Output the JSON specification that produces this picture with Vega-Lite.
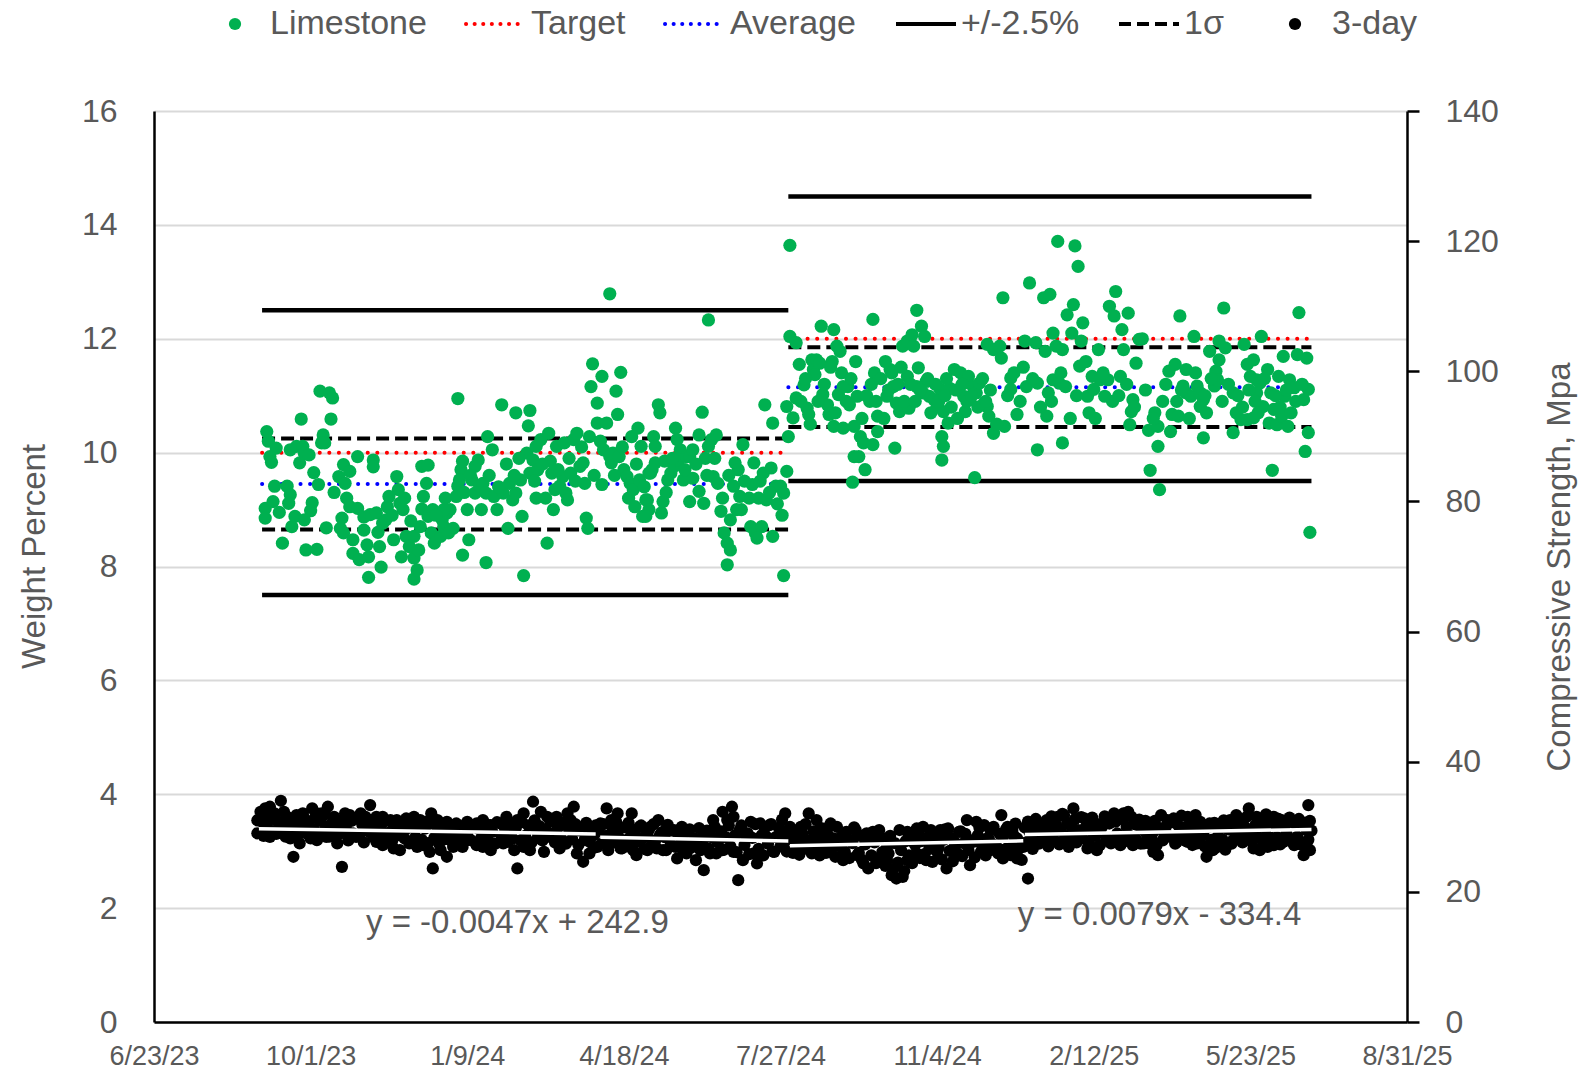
{
"$schema": "https://vega.github.io/schema/vega-lite/v6.json",
"width": 1253, "height": 911,
"autosize": {"type": "none"},
"padding": {"left": 154, "top": 111, "right": 172, "bottom": 50},
"background": "white",
"config": {"view": {"stroke": null}, "font": "Liberation Sans"},
"datasets": {
"lines": [
{"series":"Target","x1":45169,"x2":45505,"v":10},
{"series":"Target","x1":45505,"x2":45839,"v":12},
{"series":"Average","x1":45169,"x2":45505,"v":9.45},
{"series":"Average","x1":45505,"x2":45839,"v":11.15},
{"series":"+/-2.5%","x1":45169,"x2":45505,"v":12.5},
{"series":"+/-2.5%","x1":45169,"x2":45505,"v":7.5},
{"series":"+/-2.5%","x1":45505,"x2":45839,"v":14.5},
{"series":"+/-2.5%","x1":45505,"x2":45839,"v":9.5},
{"series":"1σ","x1":45169,"x2":45505,"v":10.25},
{"series":"1σ","x1":45169,"x2":45505,"v":8.65},
{"series":"1σ","x1":45505,"x2":45839,"v":11.85},
{"series":"1σ","x1":45505,"x2":45839,"v":10.45}
],
"trend": [
{"g":1,"d":45167,"s":29.7},{"g":1,"d":45382,"s":28.9},
{"g":2,"d":45385,"s":28.4},{"g":2,"d":45505,"s":27.8},
{"g":3,"d":45506,"s":27.1},{"g":3,"d":45655,"s":27.85},
{"g":4,"d":45656,"s":28.8},{"g":4,"d":45839,"s":29.6}
],
"lime": [
{"d":45172,"v":10.37},{"d":45173,"v":10.20},{"d":45178,"v":10.08},{"d":45174,"v":9.93},{"d":45175,"v":9.83},{"d":45177,"v":9.41},{"d":45171,"v":9.02},{"d":45171,"v":8.85},{"d":45176,"v":9.14},{"d":45180,"v":8.95},
{"d":45182,"v":8.41},{"d":45185,"v":9.41},{"d":45187,"v":9.26},{"d":45186,"v":9.11},{"d":45188,"v":8.70},{"d":45190,"v":8.88},{"d":45187,"v":10.05},{"d":45191,"v":10.11},{"d":45194,"v":10.59},{"d":45193,"v":9.82},
{"d":45195,"v":10.11},{"d":45196,"v":9.99},{"d":45199,"v":9.96},{"d":45202,"v":9.65},{"d":45205,"v":9.44},{"d":45201,"v":9.12},{"d":45200,"v":8.98},{"d":45196,"v":8.82},{"d":45197,"v":8.29},{"d":45204,"v":8.30},
{"d":45206,"v":11.08},{"d":45212,"v":11.05},{"d":45214,"v":10.96},{"d":45213,"v":10.59},{"d":45208,"v":10.31},{"d":45209,"v":10.17},{"d":45207,"v":10.17},{"d":45210,"v":8.68},{"d":45218,"v":9.58},{"d":45221,"v":9.79},
{"d":45225,"v":9.67},{"d":45222,"v":9.46},{"d":45220,"v":8.85},{"d":45219,"v":8.67},{"d":45221,"v":8.59},{"d":45223,"v":9.20},{"d":45225,"v":9.05},{"d":45227,"v":8.47},{"d":45227,"v":8.23},{"d":45231,"v":8.12},
{"d":45230,"v":9.02},{"d":45230,"v":9.93},{"d":45234,"v":8.64},{"d":45236,"v":8.38},{"d":45237,"v":8.17},{"d":45237,"v":7.81},{"d":45234,"v":8.87},{"d":45238,"v":8.91},{"d":45240,"v":9.87},{"d":45240,"v":9.75},
{"d":45242,"v":8.94},{"d":45244,"v":8.35},{"d":45245,"v":7.99},{"d":45246,"v":8.76},{"d":45249,"v":9.05},{"d":45250,"v":9.23},{"d":45248,"v":8.82},{"d":45253,"v":8.47},{"d":45255,"v":9.58},{"d":45256,"v":9.35},
{"d":45257,"v":9.11},{"d":45259,"v":9.00},{"d":45258,"v":8.17},{"d":45261,"v":8.53},{"d":45263,"v":8.35},{"d":45266,"v":8.15},{"d":45266,"v":7.78},{"d":45268,"v":7.94},{"d":45269,"v":8.29},{"d":45266,"v":8.53},
{"d":45270,"v":8.70},{"d":45271,"v":9.76},{"d":45275,"v":9.78},{"d":45274,"v":9.46},{"d":45272,"v":9.23},{"d":45271,"v":9.01},{"d":45275,"v":8.88},{"d":45278,"v":9.00},{"d":45277,"v":8.59},{"d":45279,"v":8.41},
{"d":45283,"v":8.53},{"d":45285,"v":8.70},{"d":45284,"v":8.82},{"d":45287,"v":8.94},{"d":45289,"v":9.00},{"d":45291,"v":8.67},{"d":45288,"v":8.59},{"d":45285,"v":9.00},{"d":45293,"v":9.23},{"d":45294,"v":9.41},
{"d":45296,"v":9.70},{"d":45297,"v":9.85},{"d":45295,"v":9.52},{"d":45300,"v":9.00},{"d":45301,"v":8.47},{"d":45297,"v":8.20},{"d":45294,"v":10.95},{"d":45303,"v":9.52},{"d":45305,"v":9.29},{"d":45305,"v":9.76},
{"d":45307,"v":9.87},{"d":45308,"v":9.41},{"d":45310,"v":9.46},{"d":45309,"v":9.00},{"d":45312,"v":9.29},{"d":45313,"v":10.28},{"d":45316,"v":10.05},{"d":45317,"v":9.23},{"d":45319,"v":9.00},{"d":45312,"v":8.07},
{"d":45322,"v":10.84},{"d":45323,"v":9.29},{"d":45326,"v":8.67},{"d":45327,"v":9.46},{"d":45329,"v":9.17},{"d":45331,"v":10.70},{"d":45331,"v":9.29},{"d":45334,"v":9.52},{"d":45335,"v":8.88},{"d":45336,"v":7.84},
{"d":45338,"v":9.99},{"d":45339,"v":10.47},{"d":45340,"v":10.74},{"d":45340,"v":9.64},{"d":45342,"v":9.87},{"d":45344,"v":10.11},{"d":45345,"v":9.70},{"d":45344,"v":9.20},{"d":45347,"v":10.23},{"d":45350,"v":9.20},
{"d":45351,"v":8.41},{"d":45352,"v":10.34},{"d":45353,"v":9.85},{"d":45354,"v":9.64},{"d":45355,"v":9.00},{"d":45356,"v":9.35},{"d":45357,"v":10.11},{"d":45359,"v":9.41},{"d":45361,"v":9.58},{"d":45363,"v":9.29},
{"d":45362,"v":10.17},{"d":45364,"v":9.17},{"d":45366,"v":9.64},{"d":45368,"v":10.23},{"d":45370,"v":10.34},{"d":45372,"v":9.76},{"d":45374,"v":9.82},{"d":45375,"v":9.46},{"d":45376,"v":8.85},{"d":45377,"v":8.67},
{"d":45378,"v":10.28},{"d":45380,"v":11.56},{"d":45379,"v":11.16},{"d":45383,"v":10.87},{"d":45386,"v":11.34},{"d":45383,"v":10.52},{"d":45386,"v":9.44},{"d":45387,"v":10.05},{"d":45389,"v":10.52},{"d":45391,"v":9.93},
{"d":45392,"v":9.82},{"d":45393,"v":9.99},{"d":45395,"v":11.08},{"d":45396,"v":10.67},{"d":45398,"v":11.41},{"d":45397,"v":9.93},{"d":45400,"v":9.70},{"d":45402,"v":9.58},{"d":45403,"v":9.20},{"d":45404,"v":9.46},
{"d":45405,"v":10.28},{"d":45406,"v":9.35},{"d":45407,"v":9.05},{"d":45409,"v":10.43},{"d":45410,"v":9.52},{"d":45411,"v":10.11},{"d":45412,"v":8.88},{"d":45414,"v":9.17},{"d":45416,"v":9.64},{"d":45391,"v":12.79},
{"d":45419,"v":10.28},{"d":45422,"v":10.84},{"d":45423,"v":10.70},{"d":45420,"v":10.11},{"d":45417,"v":9.64},{"d":45420,"v":9.82},{"d":45426,"v":9.85},{"d":45415,"v":9.17},{"d":45416,"v":9.00},{"d":45414,"v":8.88},
{"d":45424,"v":8.94},{"d":45425,"v":9.14},{"d":45428,"v":9.52},{"d":45430,"v":9.64},{"d":45432,"v":9.76},{"d":45433,"v":10.43},{"d":45434,"v":10.23},{"d":45436,"v":10.05},{"d":45435,"v":9.87},{"d":45438,"v":9.52},
{"d":45440,"v":9.93},{"d":45442,"v":9.93},{"d":45444,"v":10.05},{"d":45444,"v":9.55},{"d":45442,"v":9.14},{"d":45448,"v":10.31},{"d":45450,"v":10.71},{"d":45448,"v":9.32},{"d":45451,"v":9.11},{"d":45452,"v":9.90},
{"d":45454,"v":10.11},{"d":45456,"v":10.23},{"d":45459,"v":10.31},{"d":45457,"v":9.58},{"d":45460,"v":9.46},{"d":45462,"v":8.97},{"d":45468,"v":8.82},{"d":45464,"v":8.59},{"d":45466,"v":8.41},{"d":45468,"v":8.29},
{"d":45466,"v":8.03},{"d":45471,"v":9.82},{"d":45473,"v":9.70},{"d":45470,"v":9.41},{"d":45474,"v":9.23},{"d":45475,"v":9.00},{"d":45472,"v":9.00},{"d":45476,"v":10.14},{"d":45481,"v":8.70},{"d":45484,"v":8.59},
{"d":45483,"v":9.82},{"d":45482,"v":9.44},{"d":45486,"v":9.20},{"d":45488,"v":8.70},{"d":45485,"v":8.50},{"d":45489,"v":9.64},{"d":45491,"v":9.17},{"d":45490,"v":10.84},{"d":45494,"v":9.73},{"d":45495,"v":10.52},
{"d":45497,"v":9.41},{"d":45500,"v":9.41},{"d":45502,"v":9.29},{"d":45504,"v":9.67},{"d":45502,"v":7.84},{"d":45495,"v":8.53},{"d":45454,"v":12.33},
{"d":45215,"v":9.3},{"d":45243,"v":8.6},{"d":45252,"v":8.9},{"d":45260,"v":9.2},{"d":45264,"v":8.8},{"d":45280,"v":8.9},{"d":45286,"v":9.2},{"d":45298,"v":9.3},{"d":45302,"v":9.6},{"d":45314,"v":9.6},
{"d":45320,"v":9.4},{"d":45325,"v":9.8},{"d":45330,"v":9.6},{"d":45333,"v":9.9},{"d":45343,"v":9.5},{"d":45348,"v":9.8},{"d":45358,"v":9.7},{"d":45365,"v":9.9},{"d":45369,"v":9.5},{"d":45373,"v":10.1},
{"d":45381,"v":9.6},{"d":45385,"v":10.2},{"d":45394,"v":9.6},{"d":45399,"v":10.1},{"d":45408,"v":9.8},{"d":45413,"v":9.4},{"d":45418,"v":9.7},{"d":45427,"v":9.3},{"d":45431,"v":9.9},{"d":45439,"v":9.7},
{"d":45446,"v":9.8},{"d":45453,"v":9.6},{"d":45458,"v":9.9},{"d":45463,"v":9.2},{"d":45467,"v":9.6},{"d":45477,"v":9.5},{"d":45480,"v":9.2},{"d":45487,"v":9.5},{"d":45493,"v":9.3},{"d":45498,"v":9.1},{"d":45501,"v":8.9},
{"d":45506,"v":12.04},{"d":45510,"v":11.93},{"d":45512,"v":11.55},{"d":45504,"v":10.81},{"d":45505,"v":10.28},{"d":45508,"v":10.61},{"d":45510,"v":10.96},{"d":45515,"v":11.19},{"d":45517,"v":10.78},{"d":45518,"v":10.67},
{"d":45521,"v":11.46},{"d":45520,"v":11.63},{"d":45523,"v":11.63},{"d":45525,"v":11.57},{"d":45522,"v":11.37},{"d":45526,"v":12.22},{"d":45527,"v":11.02},{"d":45530,"v":10.84},{"d":45531,"v":10.67},{"d":45534,"v":12.16},
{"d":45536,"v":11.87},{"d":45538,"v":11.78},{"d":45533,"v":11.60},{"d":45534,"v":10.46},{"d":45537,"v":11.02},{"d":45540,"v":11.16},{"d":45543,"v":11.16},{"d":45544,"v":10.84},{"d":45540,"v":10.43},{"d":45547,"v":10.46},
{"d":45549,"v":10.99},{"d":45551,"v":10.28},{"d":45547,"v":9.93},{"d":45550,"v":9.93},{"d":45554,"v":9.70},{"d":45546,"v":9.48},{"d":45553,"v":10.17},{"d":45557,"v":10.90},{"d":45559,"v":12.34},{"d":45560,"v":11.40},
{"d":45559,"v":10.14},{"d":45562,"v":10.64},{"d":45562,"v":10.37},{"d":45567,"v":11.60},{"d":45570,"v":11.46},{"d":45568,"v":10.99},{"d":45572,"v":11.16},{"d":45574,"v":10.87},{"d":45576,"v":10.72},{"d":45573,"v":10.08},
{"d":45578,"v":11.87},{"d":45581,"v":11.96},{"d":45584,"v":12.07},{"d":45585,"v":11.87},{"d":45587,"v":12.50},{"d":45588,"v":11.49},{"d":45590,"v":12.22},{"d":45592,"v":12.04},{"d":45581,"v":11.34},{"d":45582,"v":10.78},
{"d":45587,"v":11.16},{"d":45591,"v":11.05},{"d":45593,"v":11.25},{"d":45595,"v":10.99},{"d":45598,"v":10.93},{"d":45600,"v":10.81},{"d":45602,"v":11.11},{"d":45604,"v":10.72},{"d":45607,"v":10.52},{"d":45603,"v":10.28},
{"d":45604,"v":10.11},{"d":45603,"v":9.87},{"d":45608,"v":11.13},{"d":45611,"v":11.46},{"d":45615,"v":11.40},{"d":45617,"v":10.99},{"d":45618,"v":10.72},{"d":45620,"v":11.34},{"d":45621,"v":10.93},{"d":45623,"v":11.16},
{"d":45625,"v":11.05},{"d":45627,"v":11.22},{"d":45630,"v":10.87},{"d":45632,"v":10.81},{"d":45633,"v":10.64},{"d":45632,"v":11.90},{"d":45636,"v":11.81},{"d":45640,"v":11.87},{"d":45641,"v":11.66},{"d":45642,"v":12.72},
{"d":45636,"v":10.34},{"d":45624,"v":9.56},{"d":45643,"v":10.46},{"d":45647,"v":11.31},{"d":45647,"v":11.11},{"d":45651,"v":10.67},{"d":45657,"v":11.16},{"d":45659,"v":12.98},{"d":45664,"v":11.22},{"d":45656,"v":11.96},
{"d":45663,"v":11.93},{"d":45668,"v":12.72},{"d":45672,"v":12.78},{"d":45669,"v":11.78},{"d":45674,"v":12.10},{"d":45676,"v":11.87},{"d":45680,"v":11.81},{"d":45671,"v":11.05},{"d":45664,"v":10.05},{"d":45670,"v":10.64},
{"d":45674,"v":11.28},{"d":45678,"v":11.22},{"d":45682,"v":11.16},{"d":45680,"v":10.17},{"d":45683,"v":12.42},{"d":45687,"v":12.60},{"d":45686,"v":12.10},{"d":45692,"v":11.96},{"d":45693,"v":12.28},{"d":45691,"v":11.52},
{"d":45696,"v":10.99},{"d":45699,"v":11.34},{"d":45700,"v":11.11},{"d":45697,"v":10.70},{"d":45704,"v":11.28},{"d":45703,"v":11.81},{"d":45707,"v":10.99},{"d":45709,"v":11.28},{"d":45710,"v":12.57},{"d":45713,"v":12.40},
{"d":45714,"v":12.83},{"d":45718,"v":12.16},{"d":45719,"v":11.81},{"d":45717,"v":11.34},{"d":45722,"v":12.45},{"d":45723,"v":10.49},{"d":45724,"v":10.72},{"d":45727,"v":11.57},{"d":45725,"v":10.93},{"d":45729,"v":11.99},
{"d":45506,"v":13.64},{"d":45677,"v":13.71},{"d":45688,"v":13.63},{"d":45690,"v":13.27},
{"d":45731,"v":12.00},{"d":45735,"v":10.39},{"d":45739,"v":10.70},{"d":45741,"v":10.46},{"d":45741,"v":10.11},{"d":45736,"v":9.69},{"d":45742,"v":9.35},{"d":45748,"v":11.43},{"d":45752,"v":11.55},{"d":45755,"v":12.40},
{"d":45759,"v":11.46},{"d":45749,"v":10.37},{"d":45750,"v":10.67},{"d":45754,"v":10.64},{"d":45757,"v":11.17},{"d":45759,"v":11.05},{"d":45762,"v":10.99},{"d":45764,"v":12.04},{"d":45766,"v":11.17},{"d":45768,"v":11.05},
{"d":45770,"v":10.93},{"d":45768,"v":10.81},{"d":45772,"v":10.70},{"d":45770,"v":10.26},{"d":45774,"v":11.78},{"d":45778,"v":11.43},{"d":45780,"v":11.63},{"d":45780,"v":11.96},{"d":45783,"v":12.54},{"d":45784,"v":11.84},
{"d":45777,"v":11.17},{"d":45779,"v":11.28},{"d":45789,"v":11.05},{"d":45791,"v":10.70},{"d":45789,"v":10.35},{"d":45794,"v":10.58},{"d":45796,"v":11.90},{"d":45798,"v":11.55},{"d":45800,"v":11.34},{"d":45802,"v":11.63},
{"d":45804,"v":11.28},{"d":45806,"v":11.22},{"d":45807,"v":12.04},{"d":45811,"v":11.46},{"d":45798,"v":10.58},{"d":45802,"v":10.61},{"d":45804,"v":11.05},{"d":45808,"v":10.81},{"d":45813,"v":11.05},{"d":45815,"v":10.76},
{"d":45818,"v":11.34},{"d":45812,"v":10.52},{"d":45817,"v":10.49},{"d":45820,"v":10.64},{"d":45821,"v":11.69},{"d":45822,"v":10.99},{"d":45825,"v":11.28},{"d":45828,"v":11.14},{"d":45824,"v":10.46},{"d":45830,"v":11.72},
{"d":45831,"v":12.46},{"d":45836,"v":11.66},{"d":45837,"v":11.11},{"d":45834,"v":10.93},{"d":45837,"v":10.35},{"d":45835,"v":10.02},{"d":45814,"v":9.69},{"d":45838,"v":8.60},
{"d":45513,"v":10.9},{"d":45516,"v":11.3},{"d":45519,"v":10.5},{"d":45524,"v":10.9},{"d":45528,"v":11.2},{"d":45532,"v":11.5},{"d":45535,"v":10.7},{"d":45539,"v":11.4},{"d":45542,"v":10.9},{"d":45545,"v":11.3},
{"d":45548,"v":11.6},{"d":45552,"v":10.6},{"d":45555,"v":11.0},{"d":45558,"v":11.2},{"d":45561,"v":10.9},{"d":45564,"v":11.3},{"d":45566,"v":10.6},{"d":45569,"v":11.1},{"d":45571,"v":11.4},{"d":45575,"v":11.2},
{"d":45577,"v":11.5},{"d":45579,"v":10.9},{"d":45583,"v":11.2},{"d":45586,"v":10.9},{"d":45589,"v":11.1},{"d":45594,"v":11.3},{"d":45596,"v":10.7},{"d":45599,"v":11.2},{"d":45601,"v":10.9},{"d":45605,"v":11.0},
{"d":45606,"v":11.3},{"d":45609,"v":10.8},{"d":45612,"v":11.1},{"d":45613,"v":10.6},{"d":45616,"v":11.2},{"d":45619,"v":10.9},{"d":45622,"v":11.0},{"d":45626,"v":10.8},{"d":45629,"v":11.3},{"d":45631,"v":10.9},
{"d":45634,"v":11.1},{"d":45638,"v":10.5},{"d":45645,"v":11.0},{"d":45649,"v":11.4},{"d":45653,"v":10.9},{"d":45655,"v":11.5},{"d":45661,"v":11.3},{"d":45666,"v":10.8},{"d":45673,"v":10.9},{"d":45679,"v":11.4},
{"d":45685,"v":10.6},{"d":45689,"v":11.0},{"d":45695,"v":11.6},{"d":45701,"v":10.6},{"d":45706,"v":11.4},{"d":45712,"v":10.9},{"d":45716,"v":11.0},{"d":45721,"v":11.2},{"d":45726,"v":10.8},{"d":45733,"v":11.1},
{"d":45738,"v":10.6},{"d":45744,"v":10.9},{"d":45746,"v":11.2},{"d":45753,"v":10.9},{"d":45756,"v":11.1},{"d":45761,"v":10.6},{"d":45765,"v":11.4},{"d":45771,"v":11.0},{"d":45775,"v":11.3},{"d":45782,"v":10.9},
{"d":45786,"v":11.2},{"d":45792,"v":11.0},{"d":45795,"v":10.8},{"d":45799,"v":11.1},{"d":45803,"v":10.9},{"d":45805,"v":10.7},{"d":45809,"v":11.3},{"d":45816,"v":11.0},{"d":45819,"v":10.8},{"d":45823,"v":11.1},
{"d":45826,"v":10.7},{"d":45829,"v":10.9},{"d":45833,"v":11.2}
],
"str": [
{"d":45168,"s":32.31},{"d":45171,"s":32.82},{"d":45174,"s":33.08},{"d":45177,"s":32.05},{"d":45181,"s":34.0},{"d":45185,"s":31.54},{"d":45191,"s":31.80},{"d":45195,"s":32.05},{"d":45201,"s":32.82},{"d":45204,"s":32.05},
{"d":45207,"s":32.05},{"d":45211,"s":33.08},{"d":45215,"s":31.54},{"d":45222,"s":32.05},{"d":45225,"s":31.80},{"d":45228,"s":31.28},{"d":45232,"s":32.05},{"d":45235,"s":31.54},{"d":45238,"s":33.33},{"d":45242,"s":31.54},
{"d":45246,"s":31.54},{"d":45251,"s":31.03},{"d":45255,"s":31.03},{"d":45261,"s":31.28},{"d":45266,"s":31.54},{"d":45270,"s":31.03},{"d":45274,"s":30.77},{"d":45277,"s":32.05},{"d":45281,"s":31.03},{"d":45287,"s":30.77},
{"d":45293,"s":30.51},{"d":45300,"s":30.77},{"d":45306,"s":30.51},{"d":45310,"s":31.03},{"d":45315,"s":30.26},{"d":45321,"s":30.51},{"d":45325,"s":31.54},{"d":45332,"s":31.03},{"d":45336,"s":32.05},{"d":45342,"s":33.85},
{"d":45347,"s":32.31},{"d":45351,"s":31.54},
{"d":45174,"s":28.46},{"d":45187,"s":28.21},{"d":45189,"s":25.39},{"d":45193,"s":27.44},{"d":45200,"s":28.21},{"d":45204,"s":27.95},{"d":45210,"s":28.46},{"d":45217,"s":27.44},{"d":45220,"s":23.85},{"d":45225,"s":28.46},
{"d":45229,"s":28.46},{"d":45242,"s":27.69},{"d":45246,"s":27.18},{"d":45253,"s":26.67},{"d":45257,"s":26.41},{"d":45263,"s":27.44},{"d":45268,"s":26.92},{"d":45272,"s":27.18},{"d":45276,"s":26.15},{"d":45278,"s":23.59},
{"d":45283,"s":26.41},{"d":45287,"s":25.39},{"d":45291,"s":26.92},{"d":45295,"s":27.69},{"d":45300,"s":27.95},{"d":45306,"s":27.18},{"d":45310,"s":26.92},{"d":45315,"s":26.41},{"d":45323,"s":27.44},{"d":45330,"s":26.41},
{"d":45332,"s":23.59},{"d":45336,"s":26.92},{"d":45340,"s":26.41},{"d":45349,"s":26.15},
{"d":45170,"s":30.51},{"d":45180,"s":30.51},{"d":45197,"s":30.00},{"d":45210,"s":30.00},{"d":45219,"s":30.51},{"d":45236,"s":30.00},{"d":45244,"s":29.49},{"d":45259,"s":29.49},{"d":45281,"s":28.97},{"d":45289,"s":28.97},
{"d":45300,"s":28.97},{"d":45310,"s":28.97},{"d":45327,"s":28.97},{"d":45344,"s":29.49},
{"d":45357,"s":31.54},{"d":45364,"s":32.05},{"d":45368,"s":33.08},{"d":45366,"s":31.03},{"d":45374,"s":30.00},{"d":45385,"s":30.51},{"d":45389,"s":32.82},{"d":45396,"s":32.05},{"d":45392,"s":31.03},{"d":45402,"s":30.00},
{"d":45405,"s":32.05},{"d":45410,"s":30.00},{"d":45417,"s":30.00},{"d":45422,"s":31.03},{"d":45427,"s":29.74},{"d":45432,"s":29.49},{"d":45440,"s":29.23},{"d":45451,"s":28.97},{"d":45457,"s":31.03},{"d":45463,"s":32.31},
{"d":45469,"s":33.08},{"d":45466,"s":31.03},{"d":45470,"s":31.54},{"d":45474,"s":29.49},{"d":45481,"s":30.77},{"d":45487,"s":30.51},{"d":45493,"s":30.26},{"d":45503,"s":32.05},{"d":45506,"s":30.00},{"d":45513,"s":30.00},
{"d":45518,"s":32.05},{"d":45523,"s":31.03},{"d":45532,"s":30.51},{"d":45536,"s":30.00},
{"d":45359,"s":26.67},{"d":45370,"s":25.90},{"d":45374,"s":24.62},{"d":45378,"s":25.90},{"d":45383,"s":26.92},{"d":45391,"s":27.44},{"d":45398,"s":26.67},{"d":45404,"s":26.92},{"d":45408,"s":25.64},{"d":45415,"s":26.41},
{"d":45421,"s":26.67},{"d":45427,"s":26.41},{"d":45434,"s":25.13},{"d":45440,"s":25.90},{"d":45446,"s":24.87},{"d":45451,"s":23.33},{"d":45455,"s":25.90},{"d":45463,"s":26.41},{"d":45470,"s":26.15},{"d":45473,"s":21.80},
{"d":45476,"s":24.87},{"d":45483,"s":25.90},{"d":45485,"s":24.36},{"d":45496,"s":26.15},{"d":45502,"s":26.92},{"d":45510,"s":26.67},{"d":45519,"s":26.92},{"d":45527,"s":26.41},{"d":45535,"s":25.39},
{"d":45355,"s":28.97},{"d":45381,"s":28.72},{"d":45396,"s":28.72},{"d":45415,"s":28.97},{"d":45423,"s":28.72},{"d":45436,"s":28.46},{"d":45447,"s":27.95},{"d":45461,"s":28.21},{"d":45478,"s":28.46},{"d":45491,"s":28.46},
{"d":45508,"s":27.95},{"d":45523,"s":28.21},
{"d":45542,"s":29.23},{"d":45548,"s":29.49},{"d":45559,"s":29.23},{"d":45563,"s":29.49},{"d":45581,"s":29.23},{"d":45587,"s":29.74},{"d":45591,"s":30.00},{"d":45596,"s":29.49},{"d":45602,"s":29.49},{"d":45607,"s":29.74},
{"d":45614,"s":29.23},{"d":45619,"s":31.03},{"d":45625,"s":30.77},{"d":45630,"s":30.26},{"d":45634,"s":29.49},{"d":45641,"s":31.80},{"d":45645,"s":30.00},{"d":45648,"s":29.49},{"d":45659,"s":29.23},{"d":45664,"s":30.51},
{"d":45670,"s":31.03},{"d":45677,"s":31.54},{"d":45681,"s":31.80},{"d":45687,"s":32.82},{"d":45694,"s":31.28},{"d":45700,"s":30.77},{"d":45706,"s":30.51},{"d":45713,"s":32.05},{"d":45719,"s":32.05},
{"d":45540,"s":24.87},{"d":45549,"s":25.64},{"d":45553,"s":24.36},{"d":45556,"s":23.59},{"d":45564,"s":25.13},{"d":45568,"s":24.87},{"d":45571,"s":22.56},{"d":45574,"s":22.05},{"d":45578,"s":22.31},{"d":45581,"s":24.87},
{"d":45587,"s":25.90},{"d":45593,"s":24.87},{"d":45600,"s":26.15},{"d":45606,"s":23.59},{"d":45613,"s":25.90},{"d":45621,"s":24.10},{"d":45628,"s":26.15},{"d":45634,"s":26.41},{"d":45638,"s":26.92},{"d":45642,"s":25.13},
{"d":45647,"s":25.64},{"d":45651,"s":25.13},{"d":45658,"s":22.05},{"d":45655,"s":26.92},{"d":45664,"s":27.69},{"d":45672,"s":27.95},{"d":45681,"s":27.95},{"d":45687,"s":28.21},{"d":45696,"s":26.67},{"d":45702,"s":26.41},
{"d":45711,"s":27.44},{"d":45717,"s":27.18},
{"d":45545,"s":27.95},{"d":45557,"s":28.21},{"d":45568,"s":26.92},{"d":45585,"s":27.69},{"d":45598,"s":27.69},{"d":45611,"s":27.69},{"d":45623,"s":27.69},{"d":45632,"s":28.21},{"d":45642,"s":28.46},{"d":45651,"s":28.21},
{"d":45668,"s":28.46},{"d":45685,"s":28.72},{"d":45700,"s":28.72},{"d":45715,"s":28.97},
{"d":45724,"s":31.54},{"d":45728,"s":30.26},{"d":45738,"s":29.23},{"d":45747,"s":31.03},{"d":45751,"s":31.28},{"d":45760,"s":31.54},{"d":45765,"s":31.80},{"d":45768,"s":30.77},{"d":45774,"s":30.51},{"d":45779,"s":30.00},
{"d":45787,"s":31.03},{"d":45791,"s":31.80},{"d":45799,"s":32.82},{"d":45804,"s":31.54},{"d":45811,"s":31.28},{"d":45815,"s":31.54},{"d":45820,"s":31.03},{"d":45826,"s":30.77},{"d":45832,"s":30.51},{"d":45837,"s":33.33},
{"d":45725,"s":27.18},{"d":45732,"s":27.44},{"d":45738,"s":26.15},{"d":45741,"s":25.64},{"d":45749,"s":28.46},{"d":45753,"s":27.69},{"d":45760,"s":27.69},{"d":45766,"s":27.44},{"d":45772,"s":25.39},{"d":45776,"s":26.41},
{"d":45781,"s":27.69},{"d":45785,"s":27.18},{"d":45789,"s":27.95},{"d":45794,"s":28.72},{"d":45802,"s":26.67},{"d":45806,"s":26.41},{"d":45811,"s":26.92},{"d":45815,"s":27.18},{"d":45821,"s":27.69},{"d":45828,"s":27.18},
{"d":45834,"s":25.64},{"d":45838,"s":26.41},
{"d":45734,"s":28.72},{"d":45745,"s":28.97},{"d":45757,"s":28.97},{"d":45770,"s":28.72},{"d":45779,"s":28.46},{"d":45789,"s":29.49},{"d":45800,"s":28.97},{"d":45811,"s":28.97},{"d":45823,"s":28.97},{"d":45836,"s":29.49},
{"d":45166,"s":31.0},{"d":45166,"s":29.0},{"d":45169,"s":31.6},{"d":45170,"s":28.6},{"d":45172,"s":30.2},{"d":45173,"s":31.9},{"d":45175,"s":29.3},{"d":45176,"s":31.2},{"d":45178,"s":28.9},{"d":45179,"s":30.8},
{"d":45182,"s":29.8},{"d":45183,"s":32.3},{"d":45184,"s":28.5},{"d":45186,"s":30.6},{"d":45188,"s":29.4},{"d":45190,"s":30.9},{"d":45192,"s":28.8},{"d":45194,"s":30.4},{"d":45196,"s":31.3},{"d":45198,"s":28.9},
{"d":45199,"s":30.7},{"d":45202,"s":29.6},{"d":45203,"s":31.5},{"d":45205,"s":28.7},{"d":45206,"s":30.9},{"d":45208,"s":29.2},{"d":45209,"s":31.9},{"d":45212,"s":28.5},{"d":45213,"s":30.4},{"d":45214,"s":29.7},
{"d":45216,"s":31.1},{"d":45218,"s":28.9},{"d":45221,"s":30.6},{"d":45223,"s":29.4},{"d":45224,"s":27.9},{"d":45226,"s":30.9},{"d":45227,"s":29.0},{"d":45230,"s":31.2},{"d":45231,"s":28.6},{"d":45233,"s":30.3},
{"d":45234,"s":27.6},{"d":45237,"s":29.3},{"d":45239,"s":31.0},{"d":45240,"s":28.4},{"d":45241,"s":30.5},{"d":45243,"s":28.0},{"d":45245,"s":30.4},{"d":45247,"s":28.6},{"d":45248,"s":30.9},{"d":45250,"s":29.1},
{"d":45252,"s":27.8},{"d":45253,"s":30.2},{"d":45256,"s":28.7},{"d":45258,"s":30.6},{"d":45260,"s":28.2},{"d":45262,"s":29.8},{"d":45264,"s":27.6},{"d":45265,"s":30.3},{"d":45267,"s":28.4},{"d":45269,"s":30.0},
{"d":45271,"s":28.0},{"d":45273,"s":29.7},{"d":45275,"s":27.5},{"d":45276,"s":30.6},{"d":45279,"s":28.3},{"d":45280,"s":30.2},{"d":45282,"s":27.4},{"d":45284,"s":29.8},{"d":45286,"s":28.1},{"d":45288,"s":30.4},
{"d":45290,"s":27.8},{"d":45292,"s":29.6},{"d":45294,"s":28.3},{"d":45296,"s":30.1},{"d":45297,"s":26.9},{"d":45299,"s":29.4},{"d":45302,"s":28.0},{"d":45303,"s":30.3},{"d":45305,"s":27.6},{"d":45307,"s":29.7},
{"d":45309,"s":28.3},{"d":45312,"s":30.4},{"d":45313,"s":27.9},{"d":45316,"s":29.2},{"d":45318,"s":27.4},{"d":45319,"s":30.7},{"d":45322,"s":28.6},{"d":45324,"s":29.9},{"d":45326,"s":27.7},{"d":45328,"s":30.5},
{"d":45329,"s":28.2},{"d":45331,"s":29.8},{"d":45334,"s":27.9},{"d":45335,"s":30.7},{"d":45337,"s":28.6},{"d":45339,"s":30.2},{"d":45341,"s":27.6},{"d":45343,"s":31.0},{"d":45345,"s":28.3},{"d":45346,"s":30.1},
{"d":45348,"s":27.9},{"d":45350,"s":29.6},{"d":45352,"s":28.5},{"d":45353,"s":30.8},{"d":45356,"s":27.6},{"d":45358,"s":29.9},{"d":45360,"s":28.2},{"d":45361,"s":30.6},{"d":45363,"s":27.4},{"d":45365,"s":29.6},
{"d":45367,"s":28.1},{"d":45369,"s":30.4},{"d":45371,"s":27.2},{"d":45372,"s":29.4},{"d":45375,"s":28.0},{"d":45376,"s":30.6},{"d":45378,"s":27.7},{"d":45379,"s":29.7},{"d":45381,"s":26.8},{"d":45382,"s":30.2},
{"d":45384,"s":29.5},{"d":45386,"s":27.4},{"d":45387,"s":30.4},{"d":45389,"s":28.6},{"d":45390,"s":26.4},{"d":45393,"s":29.6},{"d":45394,"s":27.6},{"d":45395,"s":30.8},{"d":45397,"s":28.2},{"d":45399,"s":26.7},
{"d":45400,"s":29.9},{"d":45401,"s":27.9},{"d":45403,"s":30.6},{"d":45404,"s":28.4},{"d":45406,"s":26.4},{"d":45407,"s":29.4},{"d":45409,"s":27.8},{"d":45411,"s":30.2},{"d":45412,"s":28.3},{"d":45413,"s":26.6},
{"d":45416,"s":29.6},{"d":45418,"s":27.4},{"d":45419,"s":30.4},{"d":45420,"s":27.9},{"d":45424,"s":29.1},{"d":45425,"s":26.4},{"d":45426,"s":28.4},{"d":45428,"s":30.3},{"d":45430,"s":27.3},{"d":45431,"s":29.4},
{"d":45433,"s":26.9},{"d":45435,"s":28.7},{"d":45437,"s":30.0},{"d":45438,"s":26.2},{"d":45439,"s":27.6},{"d":45442,"s":29.6},{"d":45443,"s":26.8},{"d":45445,"s":28.2},{"d":45448,"s":29.8},{"d":45449,"s":26.4},
{"d":45450,"s":27.7},{"d":45453,"s":29.4},{"d":45454,"s":26.7},{"d":45456,"s":28.4},{"d":45458,"s":30.0},{"d":45459,"s":25.9},{"d":45460,"s":27.6},{"d":45462,"s":29.3},{"d":45464,"s":26.5},{"d":45465,"s":28.4},
{"d":45467,"s":30.2},{"d":45468,"s":27.0},{"d":45471,"s":28.7},{"d":45472,"s":26.1},{"d":45475,"s":30.2},{"d":45477,"s":27.2},{"d":45479,"s":29.0},{"d":45480,"s":25.8},{"d":45482,"s":28.3},{"d":45484,"s":30.4},
{"d":45486,"s":26.6},{"d":45488,"s":28.7},{"d":45489,"s":25.6},{"d":45490,"s":29.8},{"d":45492,"s":27.4},{"d":45494,"s":30.4},{"d":45495,"s":26.2},{"d":45497,"s":28.4},{"d":45499,"s":29.8},{"d":45500,"s":27.0},
{"d":45501,"s":31.1},{"d":45502,"s":28.6},{"d":45504,"s":26.2},{"d":45505,"s":29.4},
{"d":45507,"s":28.7},{"d":45508,"s":26.0},{"d":45509,"s":29.4},{"d":45511,"s":27.6},{"d":45512,"s":25.7},{"d":45514,"s":28.9},{"d":45515,"s":26.6},{"d":45516,"s":30.4},{"d":45517,"s":27.9},{"d":45520,"s":25.9},
{"d":45521,"s":29.3},{"d":45522,"s":27.0},{"d":45524,"s":28.4},{"d":45525,"s":25.6},{"d":45526,"s":29.8},{"d":45528,"s":27.4},{"d":45529,"s":26.0},{"d":45530,"s":28.8},{"d":45531,"s":30.0},{"d":45533,"s":26.9},
{"d":45534,"s":28.2},{"d":45537,"s":27.1},{"d":45538,"s":25.4},{"d":45539,"s":28.5},{"d":45541,"s":26.2},{"d":45543,"s":28.0},{"d":45544,"s":25.2},{"d":45546,"s":27.5},{"d":45547,"s":29.9},{"d":45550,"s":26.0},
{"d":45551,"s":28.6},{"d":45552,"s":24.9},{"d":45554,"s":27.3},{"d":45555,"s":29.0},{"d":45558,"s":25.6},{"d":45560,"s":27.6},{"d":45561,"s":24.4},{"d":45562,"s":28.9},{"d":45565,"s":26.1},{"d":45566,"s":28.2},
{"d":45567,"s":24.0},{"d":45569,"s":25.9},{"d":45570,"s":28.6},{"d":45572,"s":23.5},{"d":45573,"s":27.5},{"d":45575,"s":24.5},{"d":45576,"s":29.5},{"d":45577,"s":26.4},{"d":45579,"s":23.2},{"d":45580,"s":27.8},
{"d":45582,"s":25.6},{"d":45583,"s":28.8},{"d":45584,"s":24.4},{"d":45586,"s":27.2},{"d":45588,"s":29.0},{"d":45589,"s":25.2},{"d":45590,"s":27.8},{"d":45592,"s":25.8},{"d":45594,"s":28.4},{"d":45595,"s":26.6},
{"d":45597,"s":24.6},{"d":45599,"s":28.7},{"d":45601,"s":26.8},{"d":45603,"s":25.0},{"d":45604,"s":28.0},{"d":45605,"s":29.6},{"d":45608,"s":26.3},{"d":45609,"s":28.3},{"d":45610,"s":24.7},{"d":45612,"s":27.2},
{"d":45615,"s":29.3},{"d":45616,"s":25.5},{"d":45617,"s":27.5},{"d":45618,"s":28.9},{"d":45620,"s":26.4},{"d":45622,"s":27.9},{"d":45624,"s":25.3},{"d":45626,"s":28.7},{"d":45627,"s":29.9},{"d":45629,"s":26.9},
{"d":45631,"s":25.6},{"d":45633,"s":28.2},{"d":45635,"s":26.8},{"d":45636,"s":30.0},{"d":45637,"s":27.2},{"d":45639,"s":25.9},{"d":45640,"s":28.9},{"d":45643,"s":26.5},{"d":45644,"s":29.6},{"d":45646,"s":27.1},
{"d":45648,"s":26.0},{"d":45649,"s":28.6},{"d":45650,"s":30.5},{"d":45652,"s":26.6},{"d":45653,"s":27.6},{"d":45654,"s":24.9},
{"d":45656,"s":29.9},{"d":45657,"s":27.6},{"d":45658,"s":30.8},{"d":45660,"s":28.2},{"d":45661,"s":26.6},{"d":45662,"s":29.6},{"d":45663,"s":31.2},{"d":45665,"s":27.4},{"d":45666,"s":29.9},{"d":45667,"s":28.0},
{"d":45669,"s":30.7},{"d":45671,"s":27.0},{"d":45672,"s":29.5},{"d":45673,"s":31.6},{"d":45674,"s":28.3},{"d":45676,"s":30.2},{"d":45678,"s":27.3},{"d":45679,"s":29.4},{"d":45680,"s":32.0},{"d":45682,"s":28.4},
{"d":45683,"s":30.6},{"d":45684,"s":26.9},{"d":45686,"s":29.9},{"d":45688,"s":31.2},{"d":45689,"s":27.6},{"d":45690,"s":29.5},{"d":45692,"s":31.5},{"d":45693,"s":28.2},{"d":45695,"s":30.0},{"d":45697,"s":27.5},
{"d":45698,"s":29.7},{"d":45699,"s":31.4},{"d":45701,"s":28.6},{"d":45703,"s":30.3},{"d":45704,"s":27.2},{"d":45705,"s":29.9},{"d":45707,"s":31.6},{"d":45708,"s":28.3},{"d":45710,"s":30.5},{"d":45712,"s":27.9},
{"d":45714,"s":30.8},{"d":45716,"s":28.6},{"d":45718,"s":31.2},{"d":45720,"s":27.8},{"d":45721,"s":30.0},{"d":45722,"s":32.3},{"d":45723,"s":28.6},{"d":45726,"s":30.4},{"d":45727,"s":28.1},{"d":45729,"s":31.1},
{"d":45730,"s":27.4},{"d":45731,"s":29.6},{"d":45733,"s":30.9},{"d":45735,"s":27.5},{"d":45736,"s":30.2},{"d":45737,"s":28.0},{"d":45739,"s":30.9},{"d":45740,"s":27.1},{"d":45742,"s":29.8},{"d":45743,"s":31.8},
{"d":45744,"s":27.9},{"d":45746,"s":30.0},{"d":45748,"s":28.6},{"d":45750,"s":30.7},{"d":45752,"s":27.4},{"d":45754,"s":30.2},{"d":45755,"s":28.5},{"d":45756,"s":31.7},{"d":45758,"s":27.9},{"d":45759,"s":30.0},
{"d":45761,"s":28.5},{"d":45762,"s":31.1},{"d":45763,"s":27.2},{"d":45764,"s":29.7},{"d":45767,"s":28.2},{"d":45769,"s":30.3},{"d":45771,"s":27.0},{"d":45773,"s":29.9},{"d":45775,"s":28.0},{"d":45777,"s":30.6},
{"d":45778,"s":26.8},{"d":45780,"s":29.6},{"d":45782,"s":28.1},{"d":45783,"s":31.0},{"d":45784,"s":26.5},{"d":45786,"s":29.6},{"d":45788,"s":27.4},{"d":45790,"s":30.4},{"d":45792,"s":28.2},{"d":45793,"s":31.2},
{"d":45795,"s":27.6},{"d":45796,"s":30.1},{"d":45797,"s":28.5},{"d":45798,"s":31.6},{"d":45801,"s":27.7},{"d":45803,"s":30.2},{"d":45805,"s":28.4},{"d":45807,"s":31.0},{"d":45808,"s":27.2},{"d":45809,"s":29.9},
{"d":45810,"s":31.9},{"d":45812,"s":28.0},{"d":45813,"s":30.5},{"d":45814,"s":27.6},{"d":45816,"s":30.1},{"d":45817,"s":28.4},{"d":45818,"s":31.2},{"d":45819,"s":27.3},{"d":45822,"s":30.2},{"d":45824,"s":28.3},
{"d":45825,"s":31.4},{"d":45827,"s":27.6},{"d":45829,"s":30.4},{"d":45830,"s":28.5},{"d":45831,"s":31.2},{"d":45833,"s":27.2},{"d":45835,"s":30.6},{"d":45837,"s":28.0},{"d":45838,"s":30.9},{"d":45839,"s":29.4}
]
},
"layer": [
{"layer": [
{"data": {"name": "lines"}, "transform": [{"filter": "datum.series === '+/-2.5%'"}],
 "mark": {"type": "rule", "strokeWidth": 4.5},
 "encoding": {
  "x": {"field": "x1", "type": "quantitative", "scale": {"domain": [45100, 45900], "nice": false, "zero": false},
   "axis": {"title": null, "values": [45100,45200,45300,45400,45500,45600,45700,45800,45900], "labelExpr": "utcFormat((datum.value - 25569) * 86400000, '%-m/%-d/%y')", "grid": false, "ticks": false, "domainColor": "black", "domainWidth": 2.5, "labelFontSize": 27, "labelColor": "#595959", "labelPadding": 21, "labelFlush": false, "labelOverlap": false, "labelFont": "Liberation Sans"}},
  "x2": {"field": "x2"},
  "y": {"field": "v", "type": "quantitative", "scale": {"domain": [0, 16], "nice": false},
   "axis": {"title": "Weight Percent", "values": [0,2,4,6,8,10,12,14,16], "format": "d", "grid": true, "gridColor": "#D9D9D9", "gridWidth": 2, "ticks": false, "domainColor": "black", "domainWidth": 2.5, "labelFontSize": 32, "labelColor": "#595959", "labelPadding": 37, "labelFont": "Liberation Sans", "titleFont": "Liberation Sans", "titleFontSize": 33, "titleFontWeight": "normal", "titleColor": "#595959", "titlePadding": 30, "titleY": 445}},
  "color": {"field": "series", "type": "nominal",
   "scale": {"domain": ["Limestone", "Target", "Average", "+/-2.5%", "1σ", "3-day"], "range": ["#00B050", "#FF0000", "#0000FF", "#000000", "#000000", "#000000"]},
   "legend": {"orient": "none", "legendX": 50, "legendY": -104, "direction": "horizontal", "title": null, "labelFontSize": 34, "labelColor": "#595959", "labelFont": "Liberation Sans", "symbolSize": 3600, "symbolStrokeWidth": 4, "columnPadding": 31, "labelOffset": 5, "padding": 0, "symbolOpacity": 1, "labelLimit": 400,
    "encode": {
     "symbols": {"update": {
      "x": {"signal": "datum.value === '3-day' ? 40 : 31"},
      "shape": {"signal": "datum.value === 'Limestone' || datum.value === '3-day' ? 'circle' : 'stroke'"},
      "size": {"signal": "datum.value === 'Limestone' || datum.value === '3-day' ? 150 : 3600"},
      "strokeDash": {"signal": "datum.value === 'Target' || datum.value === 'Average' ? [0.1, 8.5] : (datum.value === '1σ' ? [12, 6] : [1, 0])"},
      "strokeCap": {"signal": "datum.value === 'Target' || datum.value === 'Average' ? 'round' : 'butt'"},
      "strokeWidth": {"signal": "datum.value === 'Limestone' || datum.value === '3-day' ? 0 : 4"},
      "fill": {"scale": "color", "field": "value"},
      "stroke": {"scale": "color", "field": "value"},
      "opacity": {"value": 1}
     }},
     "labels": {"update": {"x": {"signal": "datum.value === '3-day' ? 77 : 66"}}}
    }}}
 }},
{"data": {"name": "lines"}, "transform": [{"filter": "datum.series === '1σ'"}],
 "mark": {"type": "rule", "strokeWidth": 4, "strokeDash": [13, 6]},
 "encoding": {"x": {"field": "x1", "type": "quantitative"}, "x2": {"field": "x2"}, "y": {"field": "v", "type": "quantitative"}, "color": {"field": "series", "type": "nominal", "legend": null}}},
{"data": {"name": "lines"}, "transform": [{"filter": "datum.series === 'Target' || datum.series === 'Average'"}],
 "mark": {"type": "rule", "strokeWidth": 4, "strokeDash": [0.1, 9.5], "strokeCap": "round"},
 "encoding": {"x": {"field": "x1", "type": "quantitative"}, "x2": {"field": "x2"}, "y": {"field": "v", "type": "quantitative"}, "color": {"field": "series", "type": "nominal", "legend": null}}},
{"data": {"name": "lime"},
 "mark": {"type": "point", "filled": true, "opacity": 1, "size": 175, "shape": "circle", "strokeWidth": 0},
 "encoding": {"x": {"field": "d", "type": "quantitative"}, "y": {"field": "v", "type": "quantitative"}, "color": {"datum": "Limestone", "type": "nominal", "legend": null}}},
{"data": {"values": [{}]},
 "mark": {"type": "text", "fontSize": 33, "color": "#595959", "font": "Liberation Sans", "align": "center", "baseline": "middle"},
 "encoding": {"x": {"datum": 45332, "type": "quantitative"}, "y": {"datum": 1.74, "type": "quantitative"}, "text": {"value": "y = -0.0047x + 242.9"}}},
{"data": {"values": [{}]},
 "mark": {"type": "text", "fontSize": 33, "color": "#595959", "font": "Liberation Sans", "align": "center", "baseline": "middle"},
 "encoding": {"x": {"datum": 45742, "type": "quantitative"}, "y": {"datum": 1.88, "type": "quantitative"}, "text": {"value": "y = 0.0079x - 334.4"}}}
]},
{"layer": [
{"data": {"name": "str"},
 "mark": {"type": "point", "filled": true, "opacity": 1, "size": 150, "shape": "circle", "strokeWidth": 0},
 "encoding": {"x": {"field": "d", "type": "quantitative"},
  "y": {"field": "s", "type": "quantitative", "scale": {"domain": [0, 140], "nice": false},
   "axis": {"orient": "right", "title": "Compressive Strength, Mpa", "values": [0,20,40,60,80,100,120,140], "grid": false, "ticks": true, "tickSize": 12, "tickWidth": 2.5, "tickColor": "black", "domainColor": "black", "domainWidth": 2.5, "labelFontSize": 32, "labelColor": "#595959", "labelPadding": 26, "labelFont": "Liberation Sans", "titleFont": "Liberation Sans", "titleFontSize": 33, "titleFontWeight": "normal", "titleColor": "#595959", "titlePadding": 45, "titleAngle": 270, "titleBaseline": "top"}},
  "color": {"datum": "3-day", "type": "nominal", "legend": null}}},
{"data": {"name": "trend"},
 "mark": {"type": "line", "color": "white", "strokeWidth": 3.5},
 "encoding": {"x": {"field": "d", "type": "quantitative"}, "y": {"field": "s", "type": "quantitative"}, "detail": {"field": "g", "type": "nominal"}}}
]}
],
"resolve": {"scale": {"y": "independent"}}
}
